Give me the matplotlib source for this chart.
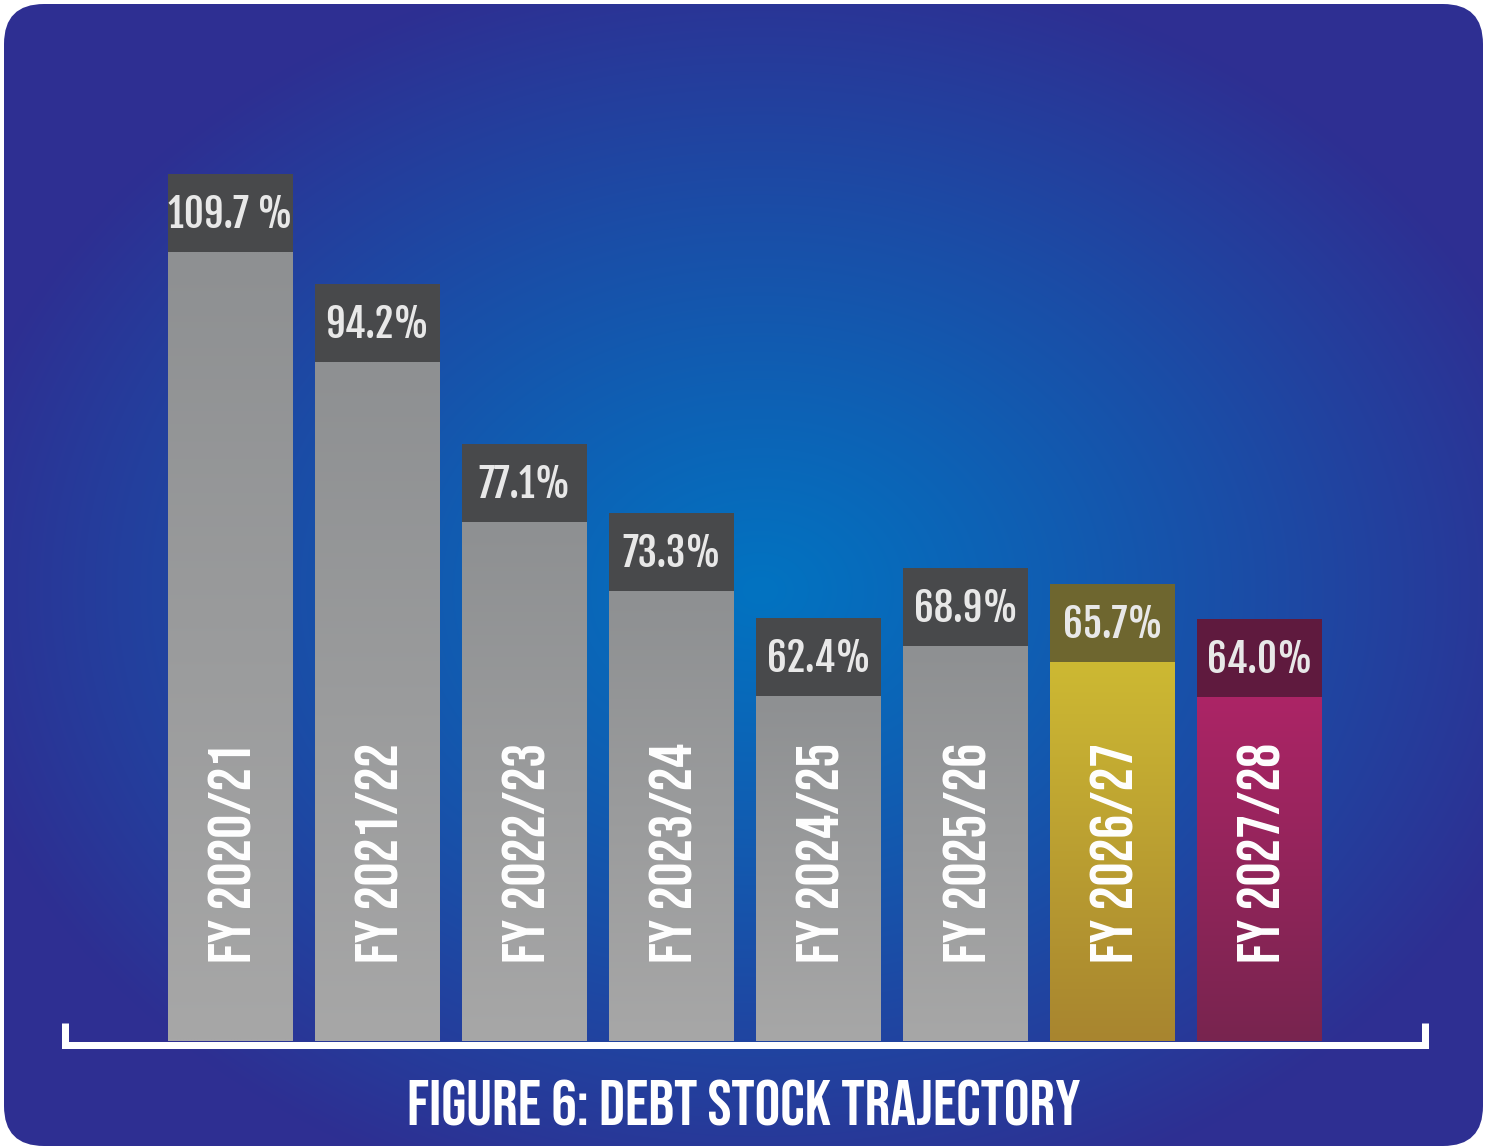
import numpy as np
import matplotlib
matplotlib.use("Agg")
import matplotlib.pyplot as plt
from matplotlib.patches import FancyBboxPatch
from matplotlib.colors import to_rgb

years = ["FY 2020/21", "FY 2021/22", "FY 2022/23", "FY 2023/24",
         "FY 2024/25", "FY 2025/26", "FY 2026/27", "FY 2027/28"]
debt_labels = ["109.7 %", "94.2%", "77.1%", "73.3%", "62.4%", "68.9%", "65.7%", "64.0%"]
# the infographic is not drawn to scale, so the drawn bar heights are kept apart
drawn_heights = [109.7, 95.8, 75.6, 66.8, 53.5, 59.9, 57.8, 53.4]
title = "FIGURE 6: DEBT STOCK TRAJECTORY"

W, H = 1487, 1148
FONT = ["Bebas Neue", "DejaVu Sans"]
VALUE_FONT = ["Fjalla One", "DejaVu Sans"]

# colours: (box, bar top, bar bottom)
grey = ("#48494b", "#8e9092", "#a7a7a7")
gold = ("#6e662f", "#cdb933", "#a8852f")
plum = ("#5f1a3e", "#ac2466", "#78254f")
palette = [grey] * 6 + [gold, plum]

fig = plt.figure(figsize=(W / 100, H / 100), dpi=100, facecolor="white")

# ---- background panel with radial gradient ----
bg = fig.add_axes([0, 0, 1, 1])
bg.set_xlim(0, W)
bg.set_ylim(H, 0)
bg.axis("off")

yy, xx = np.mgrid[0:H, 0:W]
d = np.sqrt(((xx - 760) / 820.0) ** 2 + ((yy - 590) / 640.0) ** 2)
t = np.clip(d, 0, 1) ** 1.1
c0 = np.array(to_rgb("#0273c1"))
c1 = np.array(to_rgb("#2e2f92"))
img = c0[None, None, :] * (1 - t[..., None]) + c1[None, None, :] * t[..., None]
panel = FancyBboxPatch((4, 4), W - 8, H - 6, boxstyle="round,pad=0,rounding_size=40",
                       facecolor="none", edgecolor="none")
bg.add_patch(panel)
im = bg.imshow(img, extent=(0, W, H, 0), aspect="auto", zorder=0)
im.set_clip_path(panel)

# ---- bars ----
px_per_unit = 7.9
base_px = 1041
box_h = 78 / px_per_unit
ax = fig.add_axes([83.5 / W, (H - base_px) / H, 1323 / W, base_px / H])
ax.set_xlim(-1, 8)
ax.set_ylim(0, base_px / px_per_unit)
ax.axis("off")
ax.patch.set_alpha(0)

x = np.arange(len(years))
bar_w = 0.85
body = ax.bar(x, np.array(drawn_heights) - box_h, width=bar_w, color=[p[2] for p in palette],
              zorder=2)
boxes = ax.bar(x, box_h, bottom=np.array(drawn_heights) - box_h, width=bar_w,
               color=[p[0] for p in palette], zorder=3)

for rect, pal in zip(body, palette):
    top_c = np.array(to_rgb(pal[1]))
    bot_c = np.array(to_rgb(pal[2]))
    g = np.linspace(0, 1, 256)[:, None, None]
    grad = top_c * (1 - g) + bot_c * g
    x0, w, h = rect.get_x(), rect.get_width(), rect.get_height()
    ax.imshow(grad, extent=(x0, x0 + w, 0, h), aspect="auto", zorder=2.5,
              interpolation="bilinear")

ax.set_xlim(-1, 8)
ax.set_ylim(0, base_px / px_per_unit)

for xi, h, lab, yr in zip(x, drawn_heights, debt_labels, years):
    ax.text(xi, h - box_h + 24 / px_per_unit, lab, ha="center", va="baseline",
            color="#e8e8e8", fontsize=28, family=VALUE_FONT, zorder=5)
    ax.text(xi, 78 / px_per_unit, yr, rotation=90, ha="center", va="bottom",
            color="white", fontsize=43, family=FONT, zorder=5)

# ---- bracket and title ----
top = fig.add_axes([0, 0, 1, 1])
top.set_xlim(0, W)
top.set_ylim(H, 0)
top.axis("off")
top.patch.set_alpha(0)
top.plot([65, 65, 1424.5, 1424.5], [1023, 1044.5, 1044.5, 1023], color="white",
         lw=7 * 0.72, solid_joinstyle="miter", solid_capstyle="butt")
top.text(744, 1125, title, ha="center", va="baseline", color="white",
         fontsize=46, family=FONT)

fig.savefig("out.png", dpi=100, facecolor="white")
